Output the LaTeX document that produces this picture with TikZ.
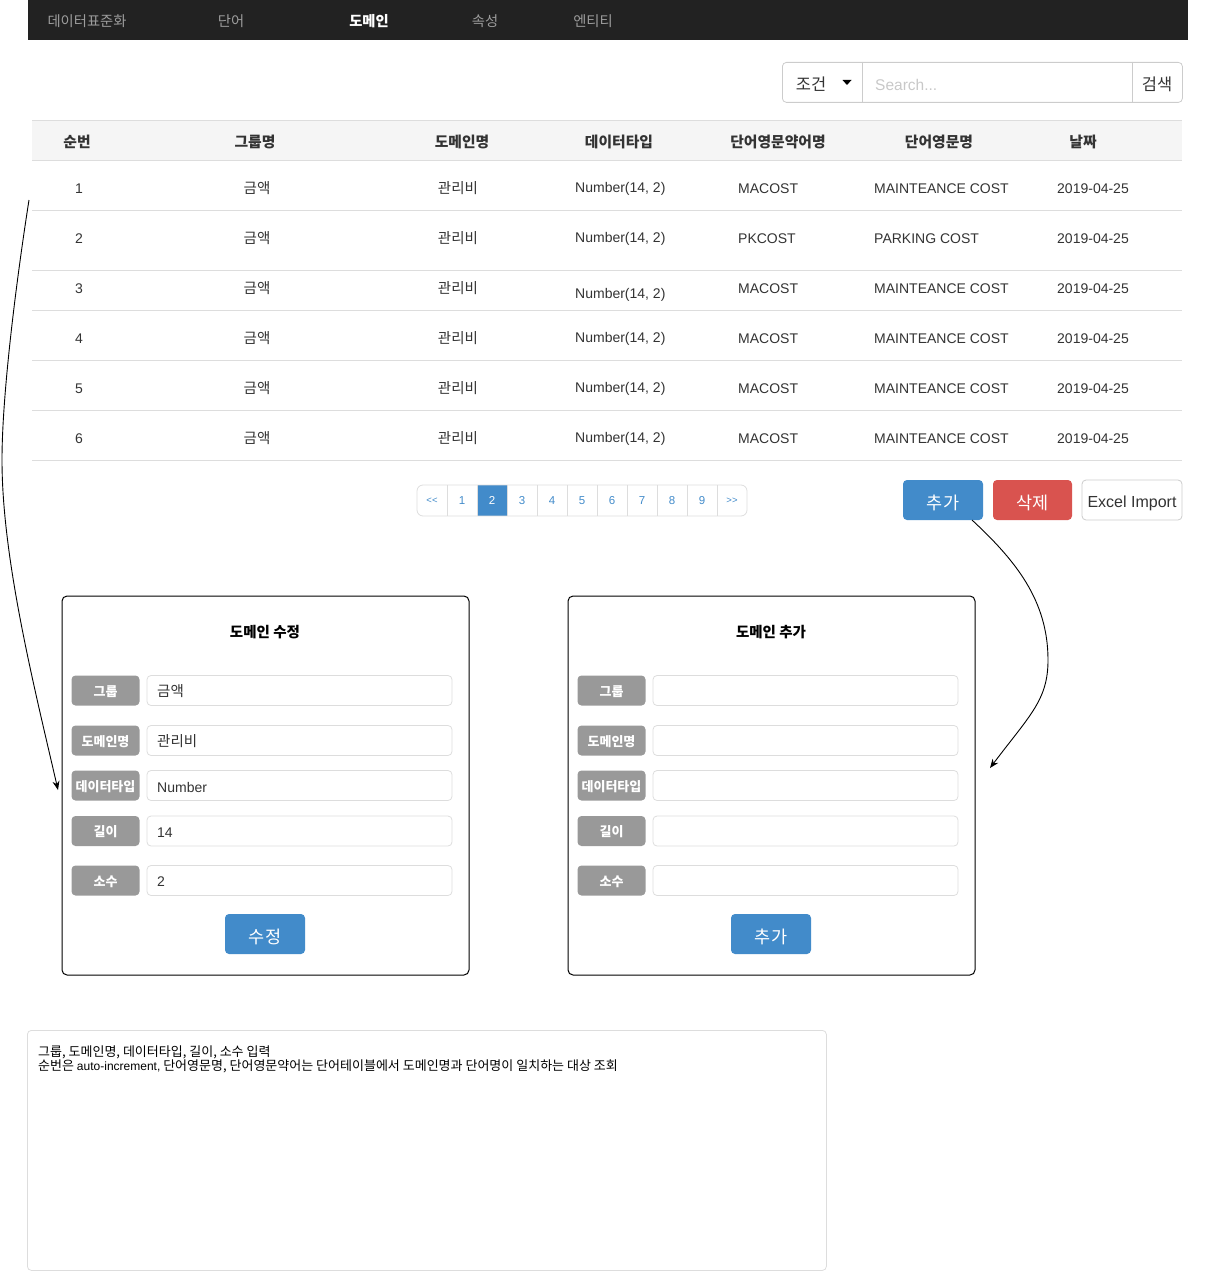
\documentclass[tikz,border=0pt]{standalone}
\usepackage{fontspec}
\setmainfont{Noto Sans CJK KR}
\newfontfamily\ar{Liberation Sans}
\usetikzlibrary{arrows.meta}
\definecolor{navbg}{HTML}{222222}
\definecolor{navtxt}{HTML}{9D9D9D}
\definecolor{bd}{HTML}{DDDDDD}
\definecolor{bdd}{HTML}{CCCCCC}
\definecolor{headbg}{HTML}{F5F5F5}
\definecolor{bsblue}{HTML}{428BCA}
\definecolor{bsred}{HTML}{D9534F}
\definecolor{lblgray}{HTML}{999999}
\definecolor{txt}{HTML}{333333}
\definecolor{ph}{HTML}{C8C8C8}
\begin{document}
\begin{tikzpicture}[x=1pt,y=-1pt,
  navt/.style={text=navtxt, font=\fontsize{14.3}{16}\selectfont, inner sep=0pt, yshift=-1.5pt},
  th/.style={text=txt, font=\bfseries\fontsize{14.8}{17}\selectfont, inner sep=0pt, yshift=-1pt},
  tdk/.style={text=txt, font=\fontsize{14.5}{17}\selectfont, inner sep=0pt, yshift=-1pt},
  tdl/.style={text=txt, font=\ar\fontsize{14}{16}\selectfont, inner sep=0pt, yshift=-1.5pt},
  rowline/.style={draw=bd, line width=0.8pt},
  panel/.style={draw=black, line width=1pt, rounded corners=5pt, minimum width=407, minimum height=379, inner sep=0pt},
  ptitle/.style={text=black, font=\bfseries\fontsize{14.5}{17}\selectfont, inner sep=0pt, yshift=-1pt},
  lbl/.style={fill=lblgray, rounded corners=4pt, minimum width=68, minimum height=30, inner sep=0pt},
  lbltxt/.style={text=white, font=\bfseries\fontsize{13}{15}\selectfont, inner sep=0pt, yshift=-1pt},
  inp/.style={draw=bd, line width=0.8pt, rounded corners=4pt, minimum width=305, minimum height=30, inner sep=0pt},
  inpk/.style={text=txt, font=\fontsize{14.5}{17}\selectfont, inner sep=0pt, anchor=west, yshift=-1pt},
  inpl/.style={text=txt, font=\ar\fontsize{14}{16}\selectfont, inner sep=0pt, anchor=west, yshift=-1.5pt},
  btn/.style={rounded corners=4pt, minimum width=80, minimum height=40, inner sep=0pt},
  btntxt/.style={text=white, font=\fontsize{17.5}{20}\selectfont, inner sep=0pt, yshift=-1.5pt},
  pg/.style={minimum width=30, minimum height=31, inner sep=0pt, text=bsblue, font=\ar\fontsize{11.5}{13}\selectfont},
  conn/.style={draw=black, line width=0.9pt, -{Stealth[length=9pt,width=7pt]}},
  notet/.style={text=black, font=\fontsize{13}{15}\selectfont, inner sep=0pt, anchor=west}
]
\useasboundingbox (0,0) rectangle (1207,1271);

% ---------- navigation bar ----------
\node[fill=navbg, minimum width=1160, minimum height=40, inner sep=0pt, anchor=north west] (nav) at (28,0) {};
\node[navt] (nav1) at (87,20) {데이터표준화};
\node[navt] (nav2) at (231,20) {단어};
\node[navt, text=white, font=\bfseries\fontsize{14.3}{16}\selectfont] (nav3) at (369,20) {도메인};
\node[navt] (nav4) at (485,20) {속성};
\node[navt] (nav5) at (593,20) {엔티티};

% ---------- search group ----------
\node[draw=bdd, line width=0.8pt, rounded corners=4pt, minimum width=400, minimum height=40, inner sep=0pt, anchor=north west] (search) at (782,62) {};
\draw[bdd, line width=0.8pt] (862,62) -- (862,102);
\draw[bdd, line width=0.8pt] (1132,62) -- (1132,102);
\node[tdk, font=\fontsize{16.5}{19}\selectfont] (cond) at (811,83) {조건};
\fill[black] (842.5,80) -- (851.5,80) -- (847,85) -- cycle;
\node[tdl, text=ph, anchor=west, font=\ar\fontsize{15.5}{17}\selectfont] (ph) at (875,83) {Search...};
\node[tdk, font=\fontsize{16.5}{19}\selectfont] (sbtn) at (1157,83) {검색};

% ---------- table ----------
\fill[headbg] (32,120) rectangle (1182,160);
\draw[rowline] (32,120) -- (1182,120);
\draw[rowline] (32,160) -- (1182,160);
\foreach \yy in {210,270,310,360,410,460} {\draw[rowline] (32,\yy) -- (1182,\yy);}
\node[th] (h1) at (77,141) {순번};
\node[th] (h2) at (255,141) {그룹명};
\node[th] (h3) at (462,141) {도메인명};
\node[th] (h4) at (619,141) {데이터타입};
\node[th] (h5) at (778,141) {단어영문약어명};
\node[th] (h6) at (939,141) {단어영문명};
\node[th] (h7) at (1083,141) {날짜};

\foreach \i/\y/\dy/\ab/\en in {1/187/187/MACOST/MAINTEANCE COST,2/237/237/PKCOST/PARKING COST,3/287/293/MACOST/MAINTEANCE COST,4/337/337/MACOST/MAINTEANCE COST,5/387/387/MACOST/MAINTEANCE COST,6/437/437/MACOST/MAINTEANCE COST} {
  \node[tdl] (r\i c1) at (79,\y) {\i};
  \node[tdk] (r\i c2) at (257,\y) {금액};
  \node[tdk] (r\i c3) at (458,\y) {관리비};
  \node[tdl, anchor=west] (r\i c4) at (575,\dy) {Number(14, 2)};
  \node[tdl, anchor=west] (r\i c5) at (738,\y) {\ab};
  \node[tdl, anchor=west] (r\i c6) at (874,\y) {\en};
  \node[tdl, anchor=west] (r\i c7) at (1057,\y) {2019-04-25};
}

% ---------- pagination ----------
\node[fill=bsblue, minimum width=30, minimum height=31, inner sep=0pt] (pgact) at (492,500.5) {};
\node[draw=bd, line width=0.8pt, rounded corners=6pt, minimum width=330, minimum height=31, inner sep=0pt] (pager) at (582,500.5) {};
\foreach \k in {1,...,10} {\draw[bd, line width=0.8pt] (417+30*\k,485) -- (417+30*\k,516);}
\node[pg, font=\ar\fontsize{9.5}{11}\selectfont] (pg0) at (432,500.5) {<{}<};
\foreach \k in {1,...,9} {
  \ifnum\k=2
    \node[pg, text=white] (pg\k) at (432+30*\k,500.5) {\k};
  \else
    \node[pg] (pg\k) at (432+30*\k,500.5) {\k};
  \fi
}
\node[pg, font=\ar\fontsize{9.5}{11}\selectfont] (pg10) at (732,500.5) {>{}>};

% ---------- action buttons ----------
\node[btn, fill=bsblue] (addbtn) at (943,500) {};
\node[btntxt] (addbtnt) at (943,501) {추가};
\node[btn, fill=bsred, minimum width=79] (delbtn) at (1032.5,500) {};
\node[btntxt] (delbtnt) at (1032.5,501) {삭제};
\node[btn, draw=bdd, line width=0.8pt, fill=white, minimum width=100] (xlsbtn) at (1132,500) {};
\node[tdl, font=\ar\fontsize{16}{18}\selectfont, yshift=-1pt] (xlsbtnt) at (1132,501) {Excel Import};

% ---------- edit panel ----------
\node[panel] (edit) at (265.5,785.5) {};
\node[ptitle] (edittitle) at (265,631) {도메인 수정};
\foreach \r/\yy/\t in {1/690.5/그룹,2/740.5/도메인명,3/785.5/데이터타입,4/831/길이,5/880.5/소수} {
  \node[lbl] (el\r) at (105.5,\yy) {};
  \node[lbltxt] (elt\r) at (105.5,\yy) {\t};
  \node[inp] (ei\r) at (299.5,\yy) {};
  \node[lbl] (al\r) at (611.5,\yy) {};
  \node[lbltxt] (alt\r) at (611.5,\yy) {\t};
  \node[inp] (ai\r) at (805.5,\yy) {};
}
\node[inpk] (ev1) at (157,690.5) {금액};
\node[inpk] (ev2) at (157,740.5) {관리비};
\node[inpl] (ev3) at (157,785.5) {Number};
\node[inpl] (ev4) at (157,831) {14};
\node[inpl] (ev5) at (157,880.5) {2};
\node[btn, fill=bsblue] (editbtn) at (265,934) {};
\node[btntxt] (editbtnt) at (265,935) {수정};

% ---------- add panel ----------
\node[panel] (add) at (771.5,785.5) {};
\node[ptitle] (addtitle) at (771,631) {도메인 추가};
\node[btn, fill=bsblue] (addbtn2) at (771,934) {};
\node[btntxt] (addbtn2t) at (771,935) {추가};

% ---------- note ----------
\node[draw=bd, line width=0.8pt, rounded corners=4pt, minimum width=799, minimum height=240, inner sep=0pt, anchor=north west] (note) at (27,1030) {};
\node[notet] (note1) at (38,1052) {그룹, 도메인명, 데이터타입, 길이, 소수 입력};
\node[notet] (note2) at (38,1066) {순번은 {\ar\fontsize{12}{14}\selectfont auto-increment,} 단어영문명, 단어영문약어는 단어테이블에서 도메인명과 단어명이 일치하는 대상 조회};

% ---------- connectors ----------
\coordinate (s1) at (29,200);
\coordinate (m1) at (2,460);
\coordinate (t1) at (58,790);
\draw[conn] (s1) .. controls (18,270) and (2,390) .. (m1) .. controls (2,560) and (35,690) .. (t1);
\coordinate (s2) at (972,520);
\coordinate (m2) at (1048,660);
\coordinate (t2) at (990,768);
\draw[conn] (s2) .. controls (1015,560) and (1048,600) .. (m2) .. controls (1048,700) and (1030,715) .. (t2);
\end{tikzpicture}
\end{document}
